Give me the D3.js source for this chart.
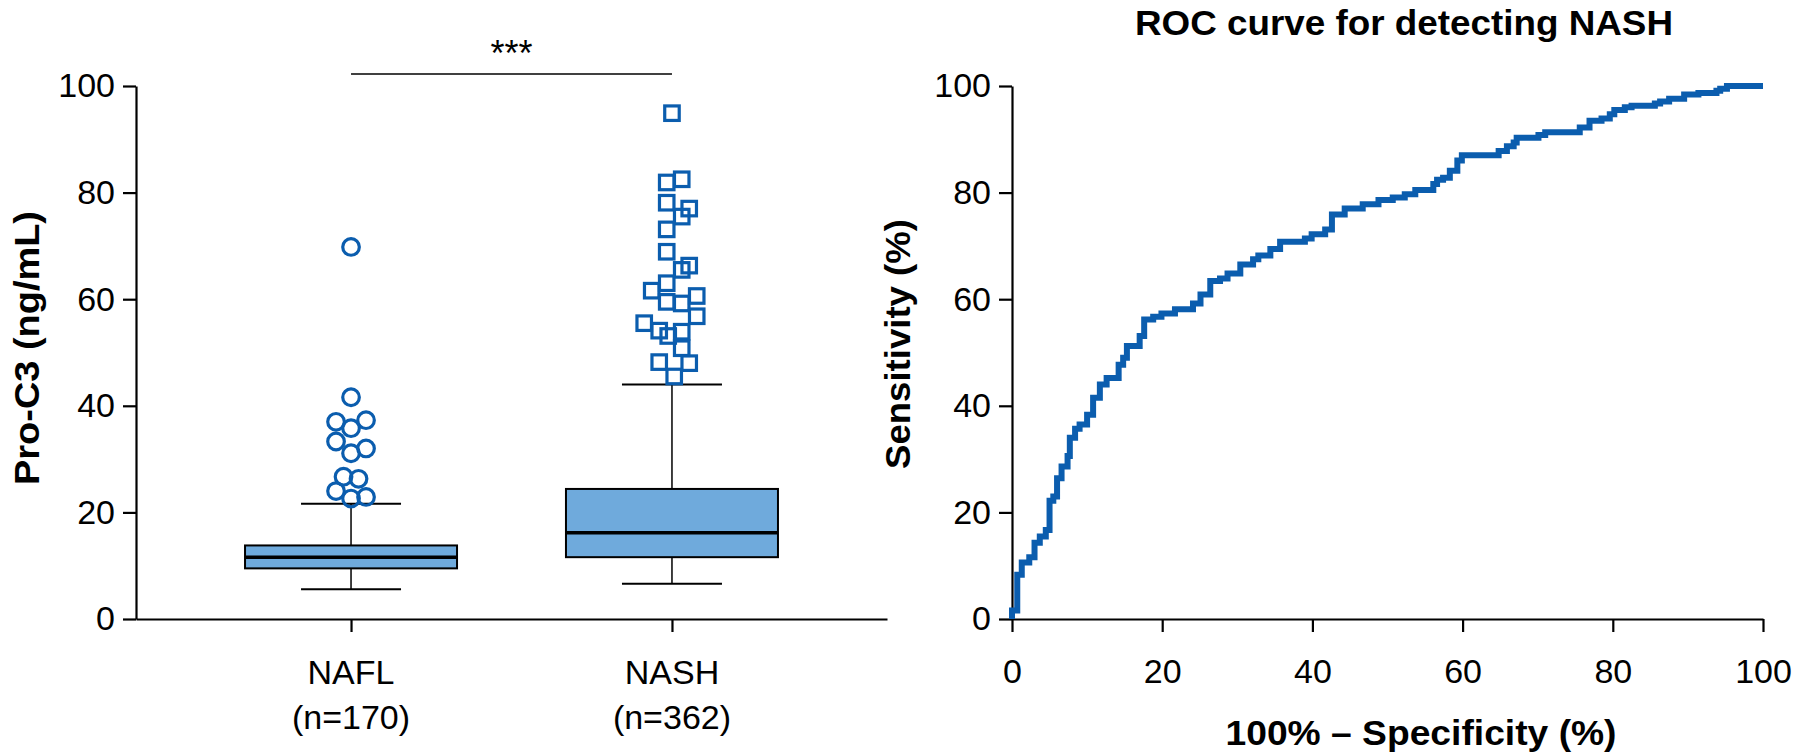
<!DOCTYPE html>
<html>
<head>
<meta charset="utf-8">
<script src="https://cdn.jsdelivr.net/npm/d3@7"></script>
<style>
  body { margin: 0; background: #fff; }
  text { font-family: "Liberation Sans", Arial, sans-serif; fill: #000; }
</style>
</head>
<body>
<div id="chart"></div>
<script>
// ---- data ----
const groups = ["NAFL", "NASH"];
const groupN = ["(n=170)", "(n=362)"];
const whiskerLow = [5.6, 6.6];
const q1 = [9.5, 11.6];
const median = [11.6, 16.2];
const q3 = [13.8, 24.4];
const whiskerHigh = [21.6, 44.0];

// outliers, with their swarm lane (in marker columns)
const naflOutliers = [69.8, 41.6, 37.0, 37.3, 35.8, 33.3, 32.0, 31.1, 26.7, 26.3, 24.0, 22.9, 22.6];
const naflLanes    = [0, 0, -2, 2, 0, -2, 2, 0, -1, 1, -2, 2, 0];
const nashOutliers = [94.9, 82.5, 81.9, 78.1, 77.0, 75.5, 73.1, 68.9, 66.3, 65.5, 63.0, 61.6, 60.6,
                      59.5, 59.2, 56.8, 55.5, 54.1, 53.1, 53.9, 50.8, 48.2, 48.0, 45.5];
const nashLanes    = [0, 1.3, -0.7, -0.7, 2.3, 1.3, -0.7, -0.7, 2.3, 1.3, -0.7, -2.7, 3.3,
                      -0.7, 1.3, 3.3, -3.7, -1.7, -0.5, 1.3, 1.3, -1.7, 2.3, 0.3];

const yTicks = [0, 20, 40, 60, 80, 100];
const xTicks = [0, 20, 40, 60, 80, 100];

// ROC curve: x = 100% - specificity, y = sensitivity (step points)
const rocFpr = [0, 0, 0.7, 1.3, 2.3, 3.0, 3.7, 4.5, 5.0, 5.5, 6.0, 6.6, 7.4, 7.7, 8.4, 9.0, 10.0, 10.8, 11.7,
                12.6, 14.2, 14.8, 15.3, 17.0, 17.6, 18.8, 19.9, 21.7, 24.1, 25.1, 26.4, 27.7, 28.7, 30.4,
                32.1, 32.8, 34.4, 35.7, 39.0, 39.9, 41.7, 42.6, 44.3, 46.7, 48.8, 50.7, 52.3, 53.7, 56.1,
                56.6, 57.4, 58.3, 59.3, 59.9, 64.8, 65.9, 66.8, 67.2, 70.1, 71.0, 75.6, 76.9, 78.5, 79.6,
                80.2, 81.6, 82.5, 85.6, 86.3, 87.5, 89.5, 91.4, 93.8, 94.3, 95.2, 100];
const rocTpr = [0, 1.6, 8.3, 10.6, 11.6, 14.3, 15.5, 16.7, 22.2, 23.0, 26.4, 28.6, 30.6, 34.0, 35.7, 36.5, 38.3, 41.5, 44.0,
                45.2, 47.7, 49.0, 51.2, 53.1, 56.2, 56.7, 57.3, 58.1, 59.2, 60.9, 63.4, 63.9, 64.8, 66.5,
                67.5, 68.2, 69.4, 70.8, 71.4, 72.2, 73.1, 75.9, 77.0, 77.8, 78.6, 79.1, 79.7, 80.5, 81.6,
                82.4, 82.8, 84.1, 86.0, 87.0, 87.8, 88.7, 89.4, 90.3, 90.8, 91.3, 92.2, 93.5, 93.9, 94.7,
                95.5, 96.0, 96.3, 96.7, 97.1, 97.6, 98.4, 98.7, 99.1, 99.5, 100, 100];

// ---- layout ----
const W = 1812, H = 754;
const blue = "#0B5DAE";
const boxFill = "#6FAADC";
const tickFont = "34px";
const titleFont = "35px";

const svg = d3.select("#chart").append("svg")
    .attr("width", W)
    .attr("height", H);

// bold axis title, stretched to the width it has in the figure
function boldTitle(g, transform, label, len) {
    return g.append("text")
        .attr("transform", transform)
        .attr("text-anchor", "middle")
        .attr("textLength", len)
        .attr("lengthAdjust", "spacingAndGlyphs")
        .style("font-size", titleFont)
        .style("font-weight", "bold")
        .text(label);
}

// ================= left panel: box plot =================
const yL = d3.scaleLinear().domain([0, 100]).range([619, 86]);
const xL = d3.scalePoint().domain(groups).range([136, 887]).padding(0.67);

const left = svg.append("g");

// y axis
const yAxisL = left.append("g")
    .attr("transform", "translate(136,0)")
    .call(d3.axisLeft(yL).tickValues(yTicks).tickSize(13).tickSizeOuter(0).tickPadding(8));
// x axis
const xAxisL = left.append("g")
    .attr("transform", "translate(0,619)")
    .call(d3.axisBottom(xL).tickSize(13).tickSizeOuter(0).tickFormat(""));

[yAxisL, xAxisL].forEach(function (a) {
    a.select(".domain").attr("stroke", "#000").attr("stroke-width", 2.2);
    a.selectAll(".tick line").attr("stroke", "#000").attr("stroke-width", 2.2);
    a.selectAll(".tick text").style("font-size", tickFont).attr("fill", "#000");
});

// category labels
groups.forEach(function (g, i) {
    left.append("text")
        .attr("x", xL(g))
        .attr("y", 684)
        .attr("text-anchor", "middle")
        .style("font-size", tickFont)
        .text(g);
    left.append("text")
        .attr("x", xL(g))
        .attr("y", 729)
        .attr("text-anchor", "middle")
        .style("font-size", tickFont)
        .text(groupN[i]);
});

// boxes
const boxHalf = 106;
const capHalf = 50;
groups.forEach(function (g, i) {
    const cx = xL(g);
    const gg = left.append("g");
    // whiskers
    gg.append("line")
        .attr("x1", cx).attr("x2", cx)
        .attr("y1", yL(q3[i])).attr("y2", yL(whiskerHigh[i]))
        .attr("stroke", "#000").attr("stroke-width", 1.5);
    gg.append("line")
        .attr("x1", cx).attr("x2", cx)
        .attr("y1", yL(q1[i])).attr("y2", yL(whiskerLow[i]))
        .attr("stroke", "#000").attr("stroke-width", 1.5);
    [whiskerHigh[i], whiskerLow[i]].forEach(function (v) {
        gg.append("line")
            .attr("x1", cx - capHalf).attr("x2", cx + capHalf)
            .attr("y1", yL(v)).attr("y2", yL(v))
            .attr("stroke", "#000").attr("stroke-width", 2);
    });
    // box
    gg.append("rect")
        .attr("x", cx - boxHalf)
        .attr("y", yL(q3[i]))
        .attr("width", boxHalf * 2)
        .attr("height", yL(q1[i]) - yL(q3[i]))
        .attr("fill", boxFill)
        .attr("stroke", "#000")
        .attr("stroke-width", 2);
    // median
    gg.append("line")
        .attr("x1", cx - boxHalf).attr("x2", cx + boxHalf)
        .attr("y1", yL(median[i])).attr("y2", yL(median[i]))
        .attr("stroke", "#000").attr("stroke-width", 3.5);
});

// outliers
const laneW = 7.5;
left.append("g")
    .selectAll("circle")
    .data(naflOutliers)
    .enter()
    .append("circle")
    .attr("cx", function (d, i) { return xL("NAFL") + naflLanes[i] * laneW; })
    .attr("cy", function (d) { return yL(d); })
    .attr("r", 8.3)
    .attr("fill", "none")
    .attr("stroke", blue)
    .attr("stroke-width", 3.2);

const sq = 14.5;
left.append("g")
    .selectAll("rect")
    .data(nashOutliers)
    .enter()
    .append("rect")
    .attr("x", function (d, i) { return xL("NASH") + nashLanes[i] * laneW - sq / 2; })
    .attr("y", function (d) { return yL(d) - sq / 2; })
    .attr("width", sq)
    .attr("height", sq)
    .attr("fill", "none")
    .attr("stroke", blue)
    .attr("stroke-width", 3.2);

// significance bar
left.append("line")
    .attr("x1", xL("NAFL")).attr("x2", xL("NASH"))
    .attr("y1", 74).attr("y2", 74)
    .attr("stroke", "#000").attr("stroke-width", 1.5);
left.append("text")
    .attr("x", (xL("NAFL") + xL("NASH")) / 2)
    .attr("y", 66)
    .attr("text-anchor", "middle")
    .style("font-size", "36px")
    .text("***");

// y title
boldTitle(left, "translate(39,348) rotate(-90)", "Pro-C3 (ng/mL)", 274);

// ================= right panel: ROC =================
const xR = d3.scaleLinear().domain([0, 100]).range([1012, 1763]);
const yR = d3.scaleLinear().domain([0, 100]).range([619, 86]);

const right = svg.append("g");

const yAxisR = right.append("g")
    .attr("transform", "translate(1012,0)")
    .call(d3.axisLeft(yR).tickValues(yTicks).tickSize(13).tickSizeOuter(0).tickPadding(8));
const xAxisR = right.append("g")
    .attr("transform", "translate(0,619)")
    .call(d3.axisBottom(xR).tickValues(xTicks).tickSize(13).tickSizeOuter(0).tickPadding(27));

[yAxisR, xAxisR].forEach(function (a) {
    a.select(".domain").attr("stroke", "#000").attr("stroke-width", 2.2);
    a.selectAll(".tick line").attr("stroke", "#000").attr("stroke-width", 2.2);
    a.selectAll(".tick text").style("font-size", tickFont).attr("fill", "#000");
});

const rocPoints = rocFpr.map(function (x, i) { return [x, rocTpr[i]]; });
const rocLine = d3.line()
    .x(function (d) { return xR(d[0]); })
    .y(function (d) { return yR(d[1]); })
    .curve(d3.curveStepAfter);

right.append("path")
    .datum(rocPoints)
    .attr("d", rocLine)
    .attr("fill", "none")
    .attr("stroke", blue)
    .attr("stroke-width", 6);

boldTitle(right, "translate(1404,35)", "ROC curve for detecting NASH", 538);
boldTitle(right, "translate(1421,745)", "100% – Specificity (%)", 391);
boldTitle(right, "translate(910,344) rotate(-90)", "Sensitivity (%)", 250);
</script>
</body>
</html>
